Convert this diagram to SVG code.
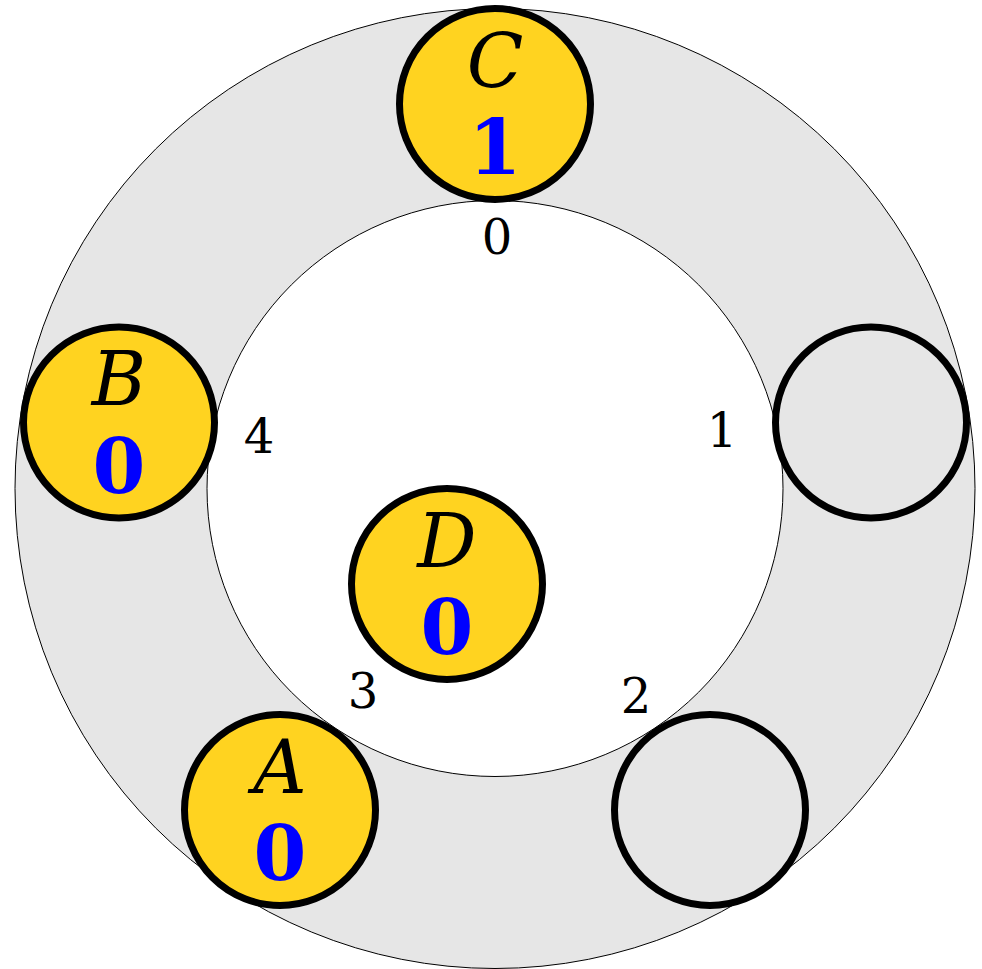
<svg xmlns="http://www.w3.org/2000/svg" width="982" height="969" viewBox="0 0 982 969">
<style>
.ring{fill:#e6e6e6;stroke:#000;stroke-width:1}
.hole{fill:#fff;stroke:#000;stroke-width:1}
.node{stroke:#000;stroke-width:7}
.full{fill:#ffd320}
.empty{fill:#e6e6e6}
.name{font-family:"DejaVu Serif",serif;font-style:italic;font-size:74px;text-anchor:middle;fill:#000}
.val{font-family:"DejaVu Serif",serif;font-weight:bold;font-size:76px;text-anchor:middle;fill:#0000ff}
.lbl{font-family:"DejaVu Serif",serif;font-size:48px;text-anchor:middle;fill:#000}
</style>
<rect width="982" height="969" fill="#fff"/>
<circle class="ring" cx="495" cy="488.5" r="480"/>
<circle class="hole" cx="495" cy="488.5" r="288"/>
<g id="connectors"></g>
<g id="labels">
<text class="lbl" x="497" y="254">0</text>
<text class="lbl" x="722" y="447">1</text>
<text class="lbl" x="636" y="713">2</text>
<text class="lbl" x="363" y="708">3</text>
<text class="lbl" x="259" y="453">4</text>
</g>
<g id="nodeC"><circle class="node full" cx="495" cy="104" r="95.5"/><text class="name" x="495" y="87">C</text><text class="val" x="495" y="174">1</text></g>
<g id="nodeB"><circle class="node full" cx="119" cy="422.5" r="95.5"/><text class="name" x="119" y="405">B</text><text class="val" x="119" y="493">0</text></g>
<g id="slot1"><circle class="node empty" cx="871" cy="422.5" r="95.5"/></g>
<g id="nodeD"><circle class="node full" cx="447" cy="584" r="95.5"/><text class="name" x="447" y="567">D</text><text class="val" x="447" y="654">0</text></g>
<g id="nodeA"><circle class="node full" cx="280" cy="810" r="95.5"/><text class="name" x="280" y="793">A</text><text class="val" x="280" y="880">0</text></g>
<g id="slot2"><circle class="node empty" cx="710" cy="810" r="95.5"/></g>
</svg>
